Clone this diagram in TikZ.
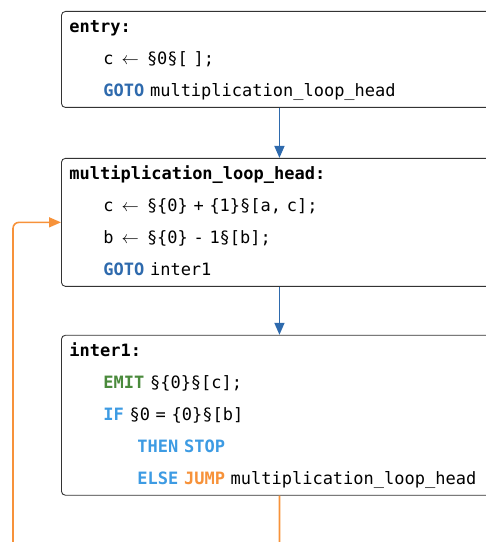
\documentclass[tikz,border=0pt]{standalone}
\usepackage{fontspec}
\setmonofont{DejaVu Sans Mono}
\usetikzlibrary{positioning}
\usetikzlibrary{arrows.meta}
\usepackage{xcolor}
\definecolor{gotoblue}{HTML}{2E6AAD}
\definecolor{ifblue}{HTML}{3D9BE3}
\definecolor{emitgreen}{HTML}{4A8A3C}
\definecolor{jumporange}{HTML}{F7923A}
\definecolor{boxline}{HTML}{333333}
\newcommand{\kw}[2]{\textbf{\textcolor{#1}{#2}}}
\newcommand{\cstrut}{\rule[-11pt]{0pt}{32pt}}
\newcommand{\ind}{\hspace*{34pt}}
\newcommand{\assign}{\makebox[22pt]{$\leftarrow$}}

\begin{document}
\begin{tikzpicture}[x=1pt,y=1pt,
  block/.style={draw=boxline, line width=0.9pt, rounded corners=4pt, fill=white,
    text width=420pt, inner xsep=8pt, inner ysep=0pt, align=left,
    font=\ttfamily\fontsize{17}{32}\selectfont},
  flowline/.style={gotoblue, line width=1.6pt, ->, >={Triangle[length=12pt,width=10pt]}},
  jumpline/.style={jumporange, line width=1.6pt, rounded corners=6pt, ->, >={Triangle[length=12pt,width=10pt]}}]
\useasboundingbox (0,0) rectangle (486,542);
\clip (0,0) rectangle (486,542);

% blocks
\node[block, anchor=north west] (entry) at (61,531) {\cstrut\textbf{entry:}\\
  \cstrut\ind c \assign\ §0§[ ];\\
  \cstrut\ind\kw{gotoblue}{GOTO} multiplication\_loop\_head};
\node[block, below=50pt of entry] (head) {\cstrut\textbf{multiplication\_loop\_head:}\\
  \cstrut\ind c \assign\ §\{0\} + \{1\}§[a, c];\\
  \cstrut\ind b \assign\ §\{0\} - 1§[b];\\
  \cstrut\ind\kw{gotoblue}{GOTO} inter1};
\node[block, below=48pt of head] (inter1) {\cstrut\textbf{inter1:}\\
  \cstrut\ind\kw{emitgreen}{EMIT} §\{0\}§[c];\\
  \cstrut\ind\kw{ifblue}{IF} §0 = \{0\}§[b]\\
  \cstrut\ind\ind\kw{ifblue}{THEN} \kw{ifblue}{STOP}\\
  \cstrut\ind\ind\kw{ifblue}{ELSE} \kw{jumporange}{JUMP} multiplication\_loop\_head};

% edges
\draw[flowline] (entry) -- (head);
\draw[flowline] (head) -- (inter1);
\draw[jumpline] (inter1.south) -- ++(0,-60) -| ([xshift=-48pt]head.west) -- (head.west);
\end{tikzpicture}
\end{document}
